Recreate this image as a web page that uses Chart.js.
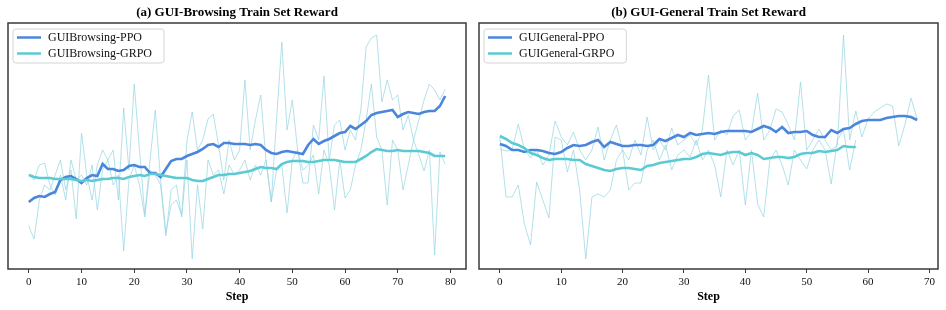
<!DOCTYPE html>
<html>
<head>
<meta charset="utf-8">
<script src="https://cdn.jsdelivr.net/npm/chart.js@4.4.0/dist/chart.umd.min.js"></script>
<style>
  body { margin: 0; background: #fff; }
  #wrap { display: flex; width: 946px; height: 310px; }
  canvas { display: block; }
</style>
</head>
<body>
<div id="wrap">
  <canvas id="chartA" width="473" height="310"></canvas>
  <canvas id="chartB" width="473" height="310"></canvas>
</div>
<script>
// ================= DATA =================
const stepTicksA = [0, 10, 20, 30, 40, 50, 60, 70, 80];
const stepTicksB = [0, 10, 20, 30, 40, 50, 60, 70];

// (a) GUI-Browsing, steps 0..79
const browsingPPO = [0.68,0.72,0.74,0.73,0.76,0.78,0.90,0.93,0.94,0.91, 0.87,0.92,0.95,0.94,1.06,1.01,1.01,0.99,1.00,1.04,
  1.05,1.03,1.03,0.97,0.97,0.93,1.01,1.09,1.11,1.11, 1.14,1.16,1.18,1.21,1.25,1.26,1.23,1.27,1.27,1.26,
  1.26,1.26,1.25,1.26,1.25,1.20,1.17,1.16,1.18,1.19, 1.18,1.17,1.16,1.25,1.31,1.26,1.29,1.31,1.34,1.37,
  1.38,1.44,1.41,1.45,1.49,1.55,1.57,1.58,1.59,1.60, 1.53,1.56,1.58,1.57,1.56,1.58,1.59,1.59,1.64,1.74];
const browsingGRPO = [0.95,0.93,0.92,0.92,0.92,0.91,0.91,0.91,0.91,0.90, 0.89,0.90,0.89,0.90,0.91,0.91,0.92,0.92,0.91,0.93,
  0.94,0.95,0.94,0.96,0.96,0.95,0.94,0.93,0.92,0.92, 0.92,0.90,0.89,0.89,0.91,0.93,0.95,0.95,0.96,0.96,
  0.97,0.98,0.99,1.01,1.03,1.02,1.02,1.01,1.06,1.08, 1.09,1.09,1.09,1.08,1.08,1.09,1.10,1.10,1.10,1.09,
  1.08,1.08,1.08,1.11,1.14,1.18,1.21,1.20,1.19,1.19, 1.20,1.19,1.19,1.19,1.19,1.18,1.17,1.14,1.14,1.14];
const browsingPPORaw = [0.44,0.31,0.70,0.85,0.80,0.95,1.10,0.80,1.00,0.51, 1.37,0.95,0.70,1.05,1.20,1.10,1.20,0.70,1.62,1.00,
  1.86,1.20,0.55,1.10,1.60,0.90,0.37,0.65,0.70,0.55, 1.29,1.58,1.20,1.30,1.51,1.56,1.25,0.90,1.30,1.10,
  1.20,1.90,1.20,1.50,1.75,1.10,0.68,1.50,2.28,1.40, 1.70,1.20,0.87,0.87,1.45,1.30,1.94,1.10,1.45,1.50,
  1.20,1.40,1.30,1.60,2.23,2.32,2.35,1.68,1.90,1.70, 1.75,1.40,1.55,1.30,1.50,1.70,1.86,1.80,1.70,1.81];
const browsingGRPORaw = [0.96,0.90,1.05,1.07,0.85,0.75,0.95,0.70,1.10,0.90, 0.95,0.85,1.05,0.60,1.00,1.10,0.85,0.95,0.19,0.90,
  1.05,0.85,0.53,1.00,0.95,0.85,0.34,0.80,0.85,0.53, 1.10,0.11,0.85,0.41,1.10,0.95,1.00,0.76,1.05,0.95,
  1.00,1.10,0.90,1.05,0.95,1.10,0.68,1.00,1.05,0.57, 1.10,1.20,1.00,1.05,1.15,0.76,1.20,1.05,0.60,1.10,
  0.72,0.80,1.05,1.20,1.50,1.86,1.33,1.20,0.65,1.30, 1.20,0.80,1.05,1.30,1.15,0.99,1.20,0.15,1.18,1.06];

// (b) GUI-General, PPO steps 0..68, GRPO steps 0..58
const generalPPO = [1.26,1.24,1.20,1.20,1.18,1.20,1.20,1.19,1.17,1.16, 1.18,1.22,1.25,1.24,1.25,1.28,1.30,1.23,1.28,1.26,
  1.24,1.24,1.25,1.25,1.24,1.25,1.31,1.29,1.32,1.35, 1.33,1.37,1.35,1.36,1.37,1.36,1.38,1.39,1.39,1.39,
  1.39,1.38,1.41,1.44,1.42,1.38,1.43,1.37,1.38,1.38, 1.39,1.35,1.33,1.33,1.40,1.37,1.41,1.42,1.46,1.49,
  1.50,1.50,1.50,1.52,1.53,1.54,1.54,1.53,1.50];
const generalGRPO = [1.34,1.31,1.27,1.25,1.22,1.17,1.15,1.12,1.10,1.11, 1.11,1.11,1.10,1.10,1.06,1.04,1.02,1.00,0.99,1.01,
  1.02,1.02,1.01,1.00,1.04,1.05,1.07,1.08,1.09,1.10, 1.11,1.11,1.13,1.16,1.17,1.16,1.15,1.17,1.18,1.18,
  1.15,1.17,1.15,1.11,1.12,1.13,1.13,1.12,1.13,1.16, 1.17,1.17,1.19,1.18,1.19,1.20,1.24,1.23,1.23];
const generalPPORaw = [1.21,1.19,1.20,1.46,1.21,1.12,1.20,1.05,1.15,1.49, 1.33,1.25,1.38,1.20,1.10,1.20,1.43,1.10,1.30,1.45,
  1.20,1.10,1.30,1.15,1.53,1.20,1.30,1.20,1.42,1.25, 1.30,1.35,1.25,1.40,1.95,1.30,1.40,1.35,1.54,1.60,
  1.30,1.38,1.77,1.30,1.40,1.61,1.58,1.45,1.30,1.88, 1.20,1.30,1.41,1.30,1.20,1.25,2.35,1.30,1.59,1.33,
  1.51,1.58,1.62,1.66,1.64,1.24,1.45,1.72,1.51];
const generalGRPORaw = [1.33,0.73,0.73,0.85,0.46,0.25,0.88,0.70,0.52,1.33, 1.30,0.98,1.20,0.80,0.11,0.73,0.76,0.73,0.80,1.10,
  1.20,0.80,0.87,0.87,1.20,1.30,1.10,1.25,1.00,1.15, 1.20,1.13,1.30,1.10,1.20,1.05,0.73,1.20,1.05,1.20,
  0.65,1.20,0.66,0.53,1.10,1.20,1.05,0.85,1.20,1.10, 1.01,1.20,1.30,1.20,0.86,1.30,1.40,1.00,1.30];

// ================= STYLE =================
const PPO_COLOR = "#4a86dc";
const GRPO_COLOR = "#5ccad3";
const RAW_COLOR = "rgba(150, 214, 226, 0.72)";
const SERIF = "'Liberation Serif', 'Times New Roman', serif";

const toPoints = arr => arr.map((v, i) => ({ x: i, y: v }));

// frame around the plot area (matplotlib spines)
const framePlugin = {
  id: "frame",
  afterDatasetsDraw(chart) {
    const { ctx, chartArea: a } = chart;
    ctx.save();
    ctx.strokeStyle = "#3a3a3a";
    ctx.lineWidth = 1.5;
    ctx.strokeRect(a.left, a.top, a.right - a.left, a.bottom - a.top);
    ctx.restore();
  }
};

// legend box in upper left corner, entries sorted by legendRank
const boxLegendPlugin = {
  id: "boxLegend",
  afterDraw(chart) {
    const { ctx, chartArea: a } = chart;
    const items = chart.data.datasets.filter(d => d.label).sort((p, q) => p.legendRank - q.legendRank);
    ctx.save();
    ctx.font = "12px " + SERIF;
    const textW = Math.max(...items.map(d => ctx.measureText(d.label).width));
    const bx = a.left + 5, by = a.top + 6;
    const bw = 35 + textW + 12, bh = 34;
    ctx.beginPath();
    ctx.roundRect(bx, by, bw, bh, 3);
    ctx.fillStyle = "rgba(255,255,255,0.85)";
    ctx.fill();
    ctx.strokeStyle = "#d4d4d4";
    ctx.lineWidth = 1;
    ctx.stroke();
    items.forEach((d, i) => {
      const y = by + 8.5 + i * 16;
      ctx.beginPath();
      ctx.moveTo(bx + 4, y);
      ctx.lineTo(bx + 28, y);
      ctx.strokeStyle = d.borderColor;
      ctx.lineWidth = 2.5;
      ctx.stroke();
      ctx.fillStyle = "#111";
      ctx.textBaseline = "middle";
      ctx.fillText(d.label, bx + 35, y + 0.5);
    });
    ctx.restore();
  }
};

function makeChart(id, title, ticks, xMin, xMax, pad, series) {
  return new Chart(document.getElementById(id), {
    type: "line",
    data: {
      datasets: [
        { label: series.grpoLabel, legendRank: 1, data: toPoints(series.grpo), borderColor: GRPO_COLOR, borderWidth: 2.6 },
        { label: series.ppoLabel, legendRank: 0, data: toPoints(series.ppo), borderColor: PPO_COLOR, borderWidth: 2.6 },
        { label: "", data: toPoints(series.grpoRaw), borderColor: RAW_COLOR, borderWidth: 1 },
        { label: "", data: toPoints(series.ppoRaw), borderColor: RAW_COLOR, borderWidth: 1 }
      ].map(d => ({ ...d, pointRadius: 0, tension: 0, fill: false }))
    },
    options: {
      responsive: false,
      animation: false,
      layout: { padding: { left: pad[0], right: pad[1], top: 0, bottom: 0 } },
      plugins: {
        legend: { display: false },
        tooltip: { enabled: false },
        title: {
          display: true,
          text: title,
          color: "#000",
          font: { family: SERIF, size: 13, weight: "bold" },
          padding: { top: 5, bottom: 2.4 }
        }
      },
      scales: {
        x: {
          type: "linear",
          min: xMin,
          max: xMax,
          afterBuildTicks: axis => { axis.ticks = ticks.map(v => ({ value: v })); },
          afterFit: axis => { axis.height = 41; },
          grid: { display: true, drawOnChartArea: false, drawTicks: true, tickLength: 4, color: "#3a3a3a" },
          border: { display: false },
          ticks: { color: "#111", padding: 3, maxRotation: 0, font: { family: SERIF, size: 11 } },
          title: {
            display: true,
            text: "Step",
            color: "#000",
            font: { family: SERIF, size: 12, weight: "bold" },
            padding: { top: 0, bottom: 6 }
          }
        },
        y: { display: false, min: 0.01, max: 2.47 }
      }
    },
    plugins: [framePlugin, boxLegendPlugin]
  });
}

makeChart("chartA", "(a) GUI-Browsing Train Set Reward", stepTicksA, -3.95, 82.95, [8, 7], {
  ppoLabel: "GUIBrowsing-PPO", grpoLabel: "GUIBrowsing-GRPO",
  ppo: browsingPPO, grpo: browsingGRPO, ppoRaw: browsingPPORaw, grpoRaw: browsingGRPORaw
});
makeChart("chartB", "(b) GUI-General Train Set Reward", stepTicksB, -3.4, 71.4, [6, 8], {
  ppoLabel: "GUIGeneral-PPO", grpoLabel: "GUIGeneral-GRPO",
  ppo: generalPPO, grpo: generalGRPO, ppoRaw: generalPPORaw, grpoRaw: generalGRPORaw
});
</script>
</body>
</html>
